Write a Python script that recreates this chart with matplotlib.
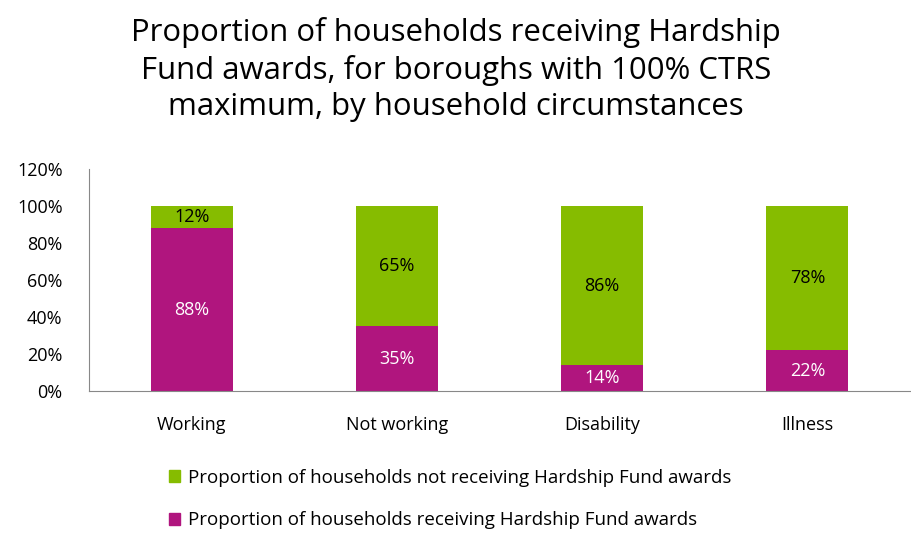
import numpy as np
import matplotlib.pyplot as plt
from matplotlib.patches import Patch

categories = ["Working", "Not working", "Disability", "Illness"]
receiving = [88, 35, 14, 22]
not_receiving = [12, 65, 86, 78]
yticks = [0, 20, 40, 60, 80, 100, 120]

green = "#86bc00"
magenta = "#b0157e"

plt.rcParams['font.family'] = ['Open Sans', 'DejaVu Sans']

fig = plt.figure(figsize=(9.12, 5.35), dpi=100)
ax = fig.add_axes([89 / 912, 1 - 391 / 535, 821 / 912, 222 / 535])

x = np.arange(len(categories))
b1 = ax.bar(x, receiving, width=0.4, color=magenta)
b2 = ax.bar(x, not_receiving, width=0.4, bottom=receiving, color=green)

for i in range(len(categories)):
    ax.text(x[i], receiving[i] / 2, f"{receiving[i]}%", ha="center", va="center",
            color="white", fontsize=13)
    ax.text(x[i], receiving[i] + not_receiving[i] / 2, f"{not_receiving[i]}%",
            ha="center", va="center", color="black", fontsize=13)

ax.set_xlim(-0.5, len(categories) - 0.5)
ax.set_ylim(0, 120)
ax.set_yticks(yticks)
ax.set_yticklabels([f"{t}%" for t in yticks], fontsize=13)
ax.set_xticks(x)
ax.set_xticklabels(categories, fontsize=13)
ax.tick_params(axis="both", length=0)
ax.tick_params(axis="y", pad=19)
ax.tick_params(axis="x", pad=18)
for s in ["top", "right"]:
    ax.spines[s].set_visible(False)
for s in ["left", "bottom"]:
    ax.spines[s].set_color("#888888")

fig.text(0.5, 1 - 17 / 535, "Proportion of households receiving Hardship\nFund awards, for boroughs with 100% CTRS\nmaximum, by household circumstances",
         ha="center", va="top", fontsize=22.4, linespacing=1.28)

handles = [Patch(color=green), Patch(color=magenta)]
labels = ["Proportion of households not receiving Hardship Fund awards",
          "Proportion of households receiving Hardship Fund awards"]
fig.legend(handles, labels, loc="upper left", bbox_to_anchor=(152 / 912, 1 - 452 / 535),
           frameon=False, fontsize=13.5, handlelength=0.6, handleheight=0.6,
           handletextpad=0.4, labelspacing=1.3)

fig.savefig("out.png", dpi=100)
